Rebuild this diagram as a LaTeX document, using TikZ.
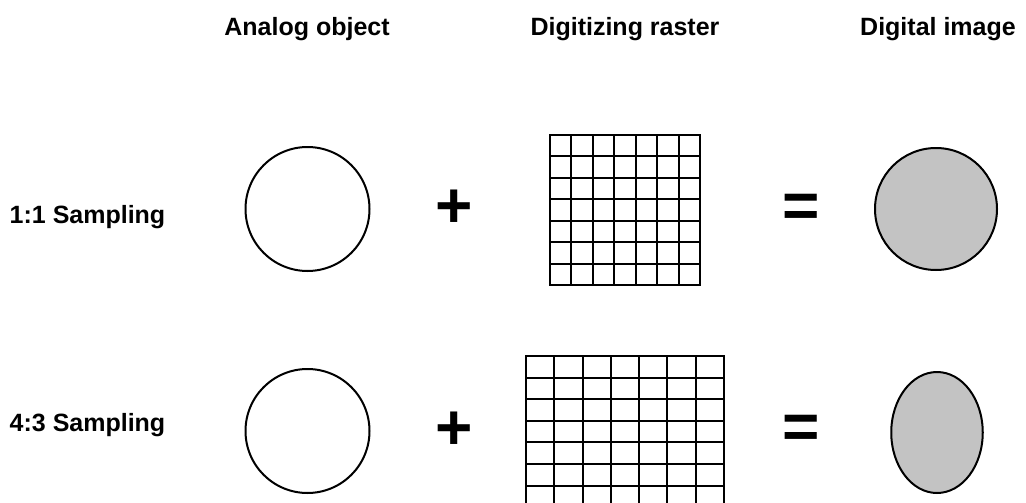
\documentclass[tikz,border=0pt]{standalone}
\usepackage{fontspec}
\setmainfont{Liberation Sans}
\usetikzlibrary{shapes.geometric}
\definecolor{digigray}{RGB}{195,195,195}
\begin{document}
\begin{tikzpicture}[x=1pt,y=-1pt,
  lbl/.style={font=\fontsize{25}{30}\selectfont\bfseries, anchor=base, inner sep=0pt},
  op/.style={font=\fontsize{64}{70}\selectfont\bfseries, inner sep=0pt},
  obj/.style={draw, line width=2pt, circle, minimum size=124pt, inner sep=0pt},
  dig/.style={draw, line width=2pt, fill=digigray, inner sep=0pt},
  gridline/.style={line width=2pt, line cap=rect}]
\clip (0,0) rectangle (1026,503);
% headers
\node[lbl] (h1) at (307,35.5) {Analog object};
\node[lbl] (h2) at (625,35.5) {Digitizing raster};
\node[lbl] (h3) at (938,35.5) {Digital image};
% row labels
\node[lbl,anchor=base west] (r1) at (9.5,223) {1:1 Sampling};
\node[lbl,anchor=base west] (r2) at (9.5,431) {4:3 Sampling};
% analog objects
\node[obj] (a1) at (307.5,209) {};
\node[obj] (a2) at (307.5,431) {};
% operators
\node[op] (p1) at (454.5,209) {+};
\node[op] (e1) at (801,211) {=};
\node[op] (p2) at (454.5,430.5) {+};
\node[op] (e2) at (801,432) {=};
% raster 1:1
\foreach \i in {0,...,7}{
  \draw[gridline] ({550+\i*150/7},135) -- ({550+\i*150/7},285);
  \draw[gridline] (550,{135+\i*150/7}) -- (700,{135+\i*150/7});
}
% raster 4:3
\foreach \i in {0,...,7}{
  \draw[gridline] ({526+\i*198/7},356) -- ({526+\i*198/7},507.2);
  \draw[gridline] (526,{356+\i*21.6}) -- (724,{356+\i*21.6});
}
% digital images
\node[dig,circle,minimum size=122pt] (d1) at (936,209) {};
\node[dig,ellipse,minimum width=91.5pt,minimum height=121pt] (d2) at (937,432.5) {};
\end{tikzpicture}
\end{document}
